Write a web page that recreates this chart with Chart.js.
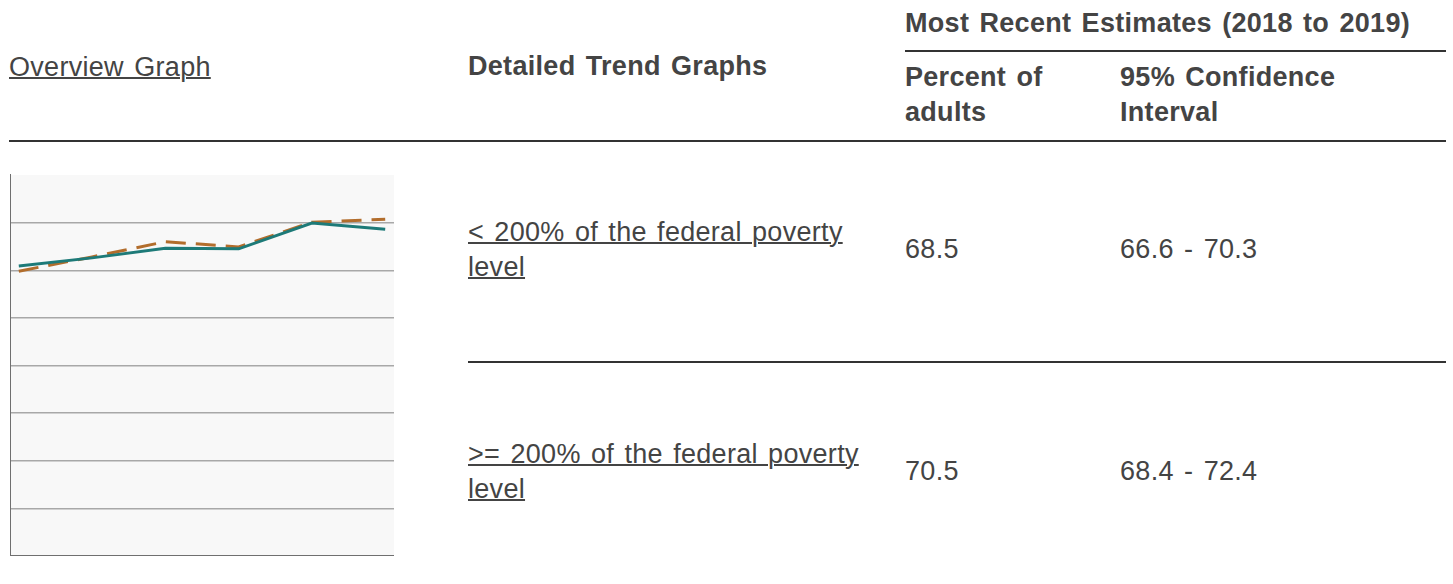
<!DOCTYPE html>
<html>
<head>
<meta charset="utf-8">
<script src="https://cdn.jsdelivr.net/npm/chart.js@4"></script>
<style>
  html, body { margin: 0; padding: 0; background: #fff; }
  body { width: 1453px; height: 584px; position: relative; overflow: hidden;
         font-family: "Liberation Sans", Arial, sans-serif; font-size: 27px; color: #444;
         letter-spacing: 0.3px; word-spacing: 2.5px; line-height: 35px; }
  .t { position: absolute; white-space: nowrap; }
  .b { font-weight: bold; }
  a { color: #444; text-decoration: underline; text-decoration-thickness: 2px; }
  .rule { position: absolute; height: 2px; background: #333; }
  #overview { position: absolute; left: 10px; top: 173px; }
</style>
</head>
<body>
<div class="t" style="left:9px; top:50px;"><a href="#">Overview Graph</a></div>
<div class="t b" style="left:468px; top:49px;">Detailed Trend Graphs</div>
<div class="t b" style="left:905px; top:6px;">Most Recent Estimates (2018 to 2019)</div>
<div class="rule" style="left:905px; top:50px; width:541px;"></div>
<div class="t b" style="left:905px; top:60px;">Percent of<br>adults</div>
<div class="t b" style="left:1120px; top:60px;">95% Confidence<br>Interval</div>
<div class="rule" style="left:9px; top:140px; width:1437px;"></div>

<div class="t" style="left:468px; top:215px;"><a href="#">&lt; 200% of the federal poverty<br>level</a></div>
<div class="t" id="est0" style="left:905px; top:232px;"></div>
<div class="t" id="ci0" style="left:1120px; top:232px;"></div>
<div class="rule" style="left:468px; top:361px; width:978px;"></div>
<div class="t" style="left:468px; top:437px;"><a href="#">&gt;= 200% of the federal poverty<br>level</a></div>
<div class="t" id="est1" style="left:905px; top:454px;"></div>
<div class="t" id="ci1" style="left:1120px; top:454px;"></div>

<canvas id="overview" width="384" height="383"></canvas>

<script>
// ---------- Données ----------
const PERIODS = ["2008-2009", "2010-2011", "2012-2013", "2014-2015", "2016-2017", "2018-2019"];
const BELOW_200 = [60.9, 62.6, 64.6, 64.5, 69.9, 68.6];
const ABOVE_200 = [59.8, 62.8, 66.0, 64.9, 70.1, 70.7];
const ESTIMATES = ["68.5", "70.5"];
const CONF_INTERVALS = ["66.6 - 70.3", "68.4 - 72.4"];

const Y_MIN = 0, Y_MAX = 80, Y_STEP = 10;

ESTIMATES.forEach((v, i) => { document.getElementById("est" + i).textContent = v; });
CONF_INTERVALS.forEach((v, i) => { document.getElementById("ci" + i).textContent = v; });

const toPoints = (vals) => vals.map((v, i) => ({ x: i, y: v }));

// fond gris clair de la zone de tracé
const plotBg = {
  id: "plotBg",
  beforeDraw(chart) {
    const { ctx, chartArea: a } = chart;
    ctx.save();
    ctx.fillStyle = "#f8f8f8";
    ctx.fillRect(a.left, a.top, a.right - a.left, a.bottom - a.top);
    ctx.restore();
  },
};

new Chart(document.getElementById("overview"), {
  type: "line",
  data: {
    datasets: [
      {
        label: "< 200% of the federal poverty level",
        data: toPoints(BELOW_200),
        borderColor: "#1d7a78",
        borderWidth: 3,
        pointRadius: 0,
        tension: 0,
      },
      {
        label: ">= 200% of the federal poverty level",
        data: toPoints(ABOVE_200),
        borderColor: "#b26d2c",
        borderWidth: 3,
        borderDash: [20, 10],
        pointRadius: 0,
        tension: 0,
      },
    ],
  },
  options: {
    responsive: false,
    animation: false,
    layout: { padding: { top: 2, left: 0, right: 0, bottom: 0 } },
    plugins: { legend: { display: false }, tooltip: { enabled: false } },
    scales: {
      x: {
        type: "linear",
        min: -0.12,
        max: PERIODS.length - 1 + 0.12,
        ticks: { display: false },
        grid: { display: false, drawTicks: false },
        border: { display: true, color: "#6f6f6f", width: 2 },
      },
      y: {
        min: Y_MIN,
        max: Y_MAX,
        ticks: { display: false, stepSize: Y_STEP },
        grid: {
          drawTicks: false,
          color: (c) => (c.tick && (c.tick.value === Y_MAX || c.tick.value === Y_MIN) ? "rgba(0,0,0,0)" : "#a8a8a8"),
          lineWidth: 1.5,
        },
        border: { display: true, color: "#6f6f6f", width: 2 },
      },
    },
  },
  plugins: [plotBg],
});
</script>
</body>
</html>
